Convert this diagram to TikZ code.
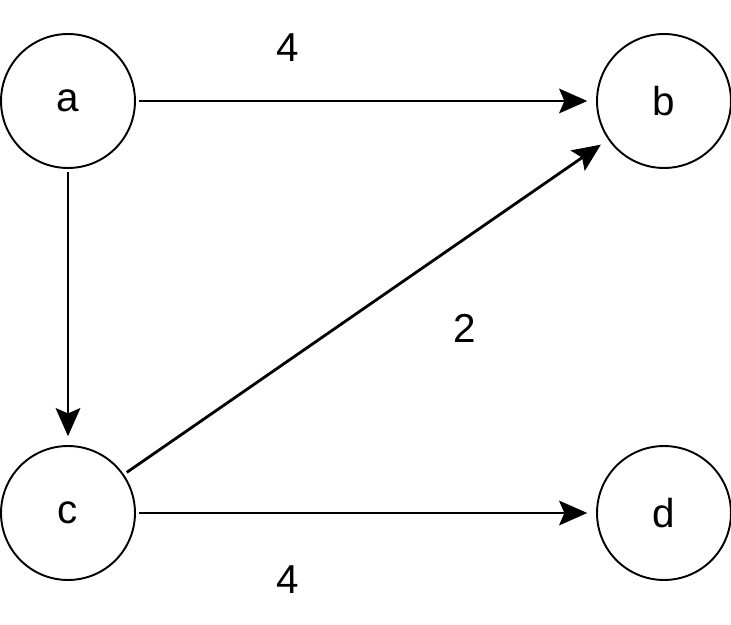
\documentclass[tikz,border=0pt]{standalone}
\usepackage{fontspec}
\setmainfont{Liberation Sans}
\usetikzlibrary{arrows.meta}
\begin{document}
\begin{tikzpicture}[x=0.02cm,y=-0.02cm,
  vert/.style={circle,draw,line width=1.1pt,minimum size=2.68cm,inner sep=0pt,font=\fontsize{23}{28}\selectfont},
  edge/.style={line width=1.6pt,shorten >=5pt,shorten <=2pt,-{Stealth[length=16pt,width=14pt,inset=3pt]}},
  lbl/.style={font=\fontsize{23}{28}\selectfont}]
\useasboundingbox (0,0) rectangle (731,625);
\node[vert] (a) at (68,101) {a};
\node[vert] (b) at (664,101) {b};
\node[vert] (c) at (68,513) {c};
\node[vert] (d) at (664,513) {d};
\draw[edge] (a) -- (b);
\draw[edge] (a) -- (c);
\draw[edge] (c) -- (b);
\draw[edge] (c) -- (d);
\node[lbl] (l1) at (288,48) {4};
\node[lbl] (l2) at (465,328) {2};
\node[lbl] (l3) at (288,580) {4};
\end{tikzpicture}
\end{document}
